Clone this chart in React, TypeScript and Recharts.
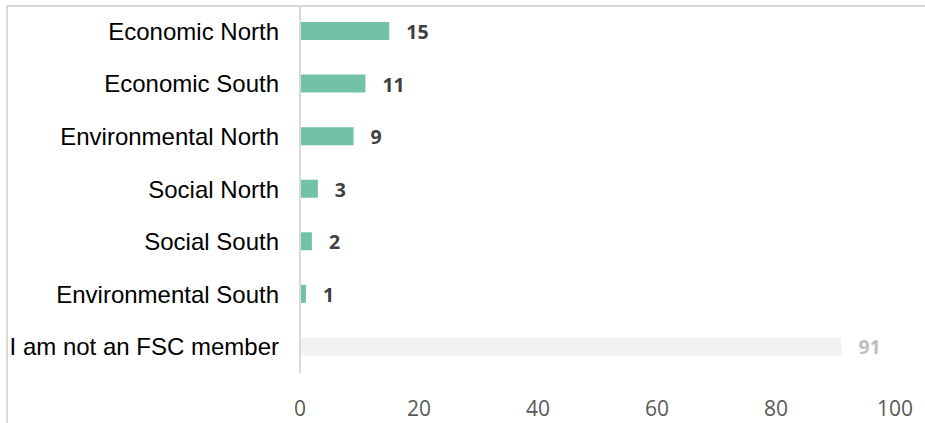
import React from 'react';
import { BarChart, Bar, XAxis, YAxis, Cell, LabelList, ReferenceLine } from 'recharts';

const categories = [
  'Economic North',
  'Economic South',
  'Environmental North',
  'Social North',
  'Social South',
  'Environmental South',
  'I am not an FSC member',
];
const responses = [15, 11, 9, 3, 2, 1, 91];
const xTicks = [0, 20, 40, 60, 80, 100];

const TEAL = '#72c2a9';
const NON_MEMBER = '#f2f2f2';

const data = categories.map((name, i) => ({ name, value: responses[i] }));

const isNonMember = (name: string) => name === 'I am not an FSC member';

const ValueLabel = (props: any) => {
  const { x, y, width, height, value, index } = props;
  const muted = isNonMember(data[index].name);
  return (
    <text
      x={x + width + 17}
      y={y + height / 2 + 8}
      fill={muted ? '#bfbfbf' : '#404040'}
      fontFamily="'Open Sans', sans-serif"
      fontWeight={700}
      fontSize={19.5}
    >
      {value}
    </text>
  );
};

const App: React.FC = () => {
  return (
    <div style={{ position: 'fixed', inset: 0, overflow: 'hidden', background: '#fff' }}>
      <div
        style={{
          position: 'absolute',
          left: 6,
          top: 5,
          width: 1000,
          height: 500,
          border: '2px solid #d9d9d9',
        }}
      />
      <div style={{ position: 'absolute', left: 0, top: 0 }}>
        <BarChart
          width={925}
          height={423}
          layout="vertical"
          data={data}
          margin={{ top: 5, right: 30, left: 0, bottom: 0 }}
          barCategoryGap={0}
        >
          <XAxis
            type="number"
            domain={[0, 100]}
            ticks={xTicks}
            axisLine={false}
            tickLine={false}
            tickSize={0}
            tickMargin={28}
            height={50}
            interval={0}
            tick={{ fill: '#595959', fontSize: 21, fontFamily: "'Open Sans', sans-serif" }}
          />
          <YAxis
            type="category"
            dataKey="name"
            width={300}
            axisLine={false}
            tickLine={false}
            tickSize={0}
            tickMargin={21}
            interval={0}
            tick={{ fill: '#000', fontSize: 24, fontFamily: "'Liberation Sans', Arial, sans-serif" }}
          />
          <ReferenceLine x={0} stroke="#d9d9d9" strokeWidth={2} />
          <Bar dataKey="value" barSize={18} isAnimationActive={false}>
            {data.map((d) => (
              <Cell key={d.name} fill={isNonMember(d.name) ? NON_MEMBER : TEAL} />
            ))}
            <LabelList dataKey="value" content={ValueLabel} />
          </Bar>
        </BarChart>
      </div>
    </div>
  );
};

export default App;
